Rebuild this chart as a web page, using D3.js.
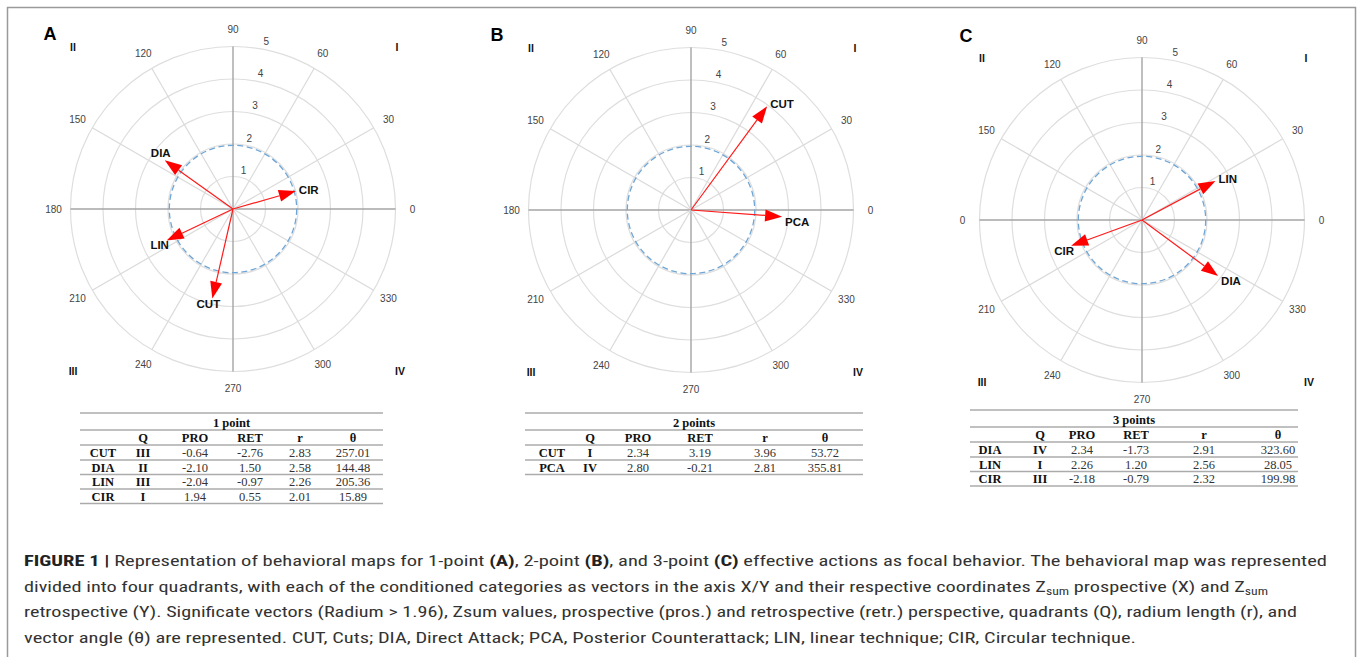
<!DOCTYPE html>
<html><head><meta charset="utf-8">
<script src="https://cdn.jsdelivr.net/npm/d3@7"></script>
<style>body{margin:0;background:#fff}</style>
</head><body><svg id="c" width="1357" height="657"></svg>
<script>
// ---------------- data ----------------
const panelLetters = ["A", "B", "C"];
const tableTitles = ["1 point", "2 points", "3 points"];
const tableHeader = ["", "Q", "PRO", "RET", "r", "θ"];
// category, quadrant, PRO, RET, r, theta
const rowsA = [
  ["CUT", "III", -0.64, -2.76, 2.83, 257.01],
  ["DIA", "II", -2.10, 1.50, 2.58, 144.48],
  ["LIN", "III", -2.04, -0.97, 2.26, 205.36],
  ["CIR", "I", 1.94, 0.55, 2.01, 15.89]
];
const rowsB = [
  ["CUT", "I", 2.34, 3.19, 3.96, 53.72],
  ["PCA", "IV", 2.80, -0.21, 2.81, 355.81]
];
const rowsC = [
  ["DIA", "IV", 2.34, -1.73, 2.91, 323.60],
  ["LIN", "I", 2.26, 1.20, 2.56, 28.05],
  ["CIR", "III", -2.18, -0.79, 2.32, 199.98]
];
const radialTicks = [1, 2, 3, 4, 5];
const angleTicks = [0, 30, 60, 90, 120, 150, 180, 210, 240, 270, 300, 330];
const angleLabelsA = ["0", "30", "60", "90", "120", "150", "180", "210", "240", "270", "300", "330"];
const angleLabelsB = ["0", "30", "60", "90", "120", "150", "180", "210", "240", "270", "300", "330"];
const angleLabelsC = ["0", "30", "60", "90", "120", "150", "0", "210", "240", "270", "300", "330"];
const quadrantLabels = ["I", "II", "III", "IV"];
const quadrantAngles = [45, 135, 225, 315];
const significanceRadius = 1.96;
const rMax = 5;

const captionLines = [
  [["FIGURE 1 |", true], [" Representation of behavioral maps for 1-point ", false], ["(A)", true], [", 2-point ", false], ["(B)", true], [", and 3-point ", false], ["(C)", true], [" effective actions as focal behavior. The behavioral map was represented", false]],
  [["divided into four quadrants, with each of the conditioned categories as vectors in the axis X/Y and their respective coordinates Z", false], ["sum", false, "sub"], [" prospective (X) and Z", false], ["sum", false, "sub"]],
  [["retrospective (Y). Significate vectors (Radium > 1.96), Zsum values, prospective (pros.) and retrospective (retr.) perspective, quadrants (Q), radium length (r), and", false]],
  [["vector angle (θ) are represented. CUT, Cuts; DIA, Direct Attack; PCA, Posterior Counterattack; LIN, linear technique; CIR, Circular technique.", false]]
];

// ---------------- layout ----------------
const panels = [
  {cx: 233, cy: 209, letter: [50, 40], rows: rowsA, labels: angleLabelsA,
   table: {left: 80, right: 383, top: 413, cols: [103, 143, 195, 250, 300, 353]}},
  {cx: 691, cy: 210, letter: [497, 41], rows: rowsB, labels: angleLabelsB,
   table: {left: 525, right: 863, top: 413, cols: [552, 590, 638, 700, 765, 825]}},
  {cx: 1142, cy: 220, letter: [966, 42], rows: rowsC, labels: angleLabelsC,
   table: {left: 970, right: 1298, top: 410, cols: [990, 1040, 1082, 1136, 1204, 1278]}}
];
const R = 162.5;
const sans = "'Liberation Sans', Arial, sans-serif";
const serif = "'Liberation Serif', 'Times New Roman', serif";

const svg = d3.select("#c");
svg.append("path").attr("d", "M7.5,657 V7.5 H1355.5 V657")
  .attr("fill", "none").attr("stroke", "#9a9a9a").attr("stroke-width", 1.5);

const rScale = d3.scaleLinear().domain([0, rMax]).range([0, R]);
const rad = d => d * Math.PI / 180;

panels.forEach((p, pi) => {
  const g = svg.append("g").attr("transform", `translate(${p.cx},${p.cy})`);
  const px = (r, a) => rScale(r) * Math.cos(rad(a));
  const py = (r, a) => -rScale(r) * Math.sin(rad(a));

  // grid circles
  g.selectAll("circle.grid").data(radialTicks).join("circle")
    .attr("r", d => rScale(d)).attr("fill", "none")
    .attr("stroke", "#dedede").attr("stroke-width", 1.2);
  // spokes
  g.selectAll("line.spoke").data(angleTicks).join("line")
    .attr("x1", 0).attr("y1", 0)
    .attr("x2", d => px(rMax, d)).attr("y2", d => py(rMax, d))
    .attr("stroke", d => d % 90 === 0 ? "#a4a4a4" : "#dadada")
    .attr("stroke-width", d => d % 90 === 0 ? 1.4 : 1.2);
  // angle labels
  g.selectAll("text.ang").data(angleTicks).join("text")
    .attr("x", d => (R + 17) * Math.cos(rad(d)))
    .attr("y", d => -(R + 17) * Math.sin(rad(d)))
    .attr("text-anchor", "middle").attr("dominant-baseline", "central")
    .attr("font-family", sans).attr("font-size", 10).attr("fill", "#444")
    .text((d, i) => p.labels[i]);
  // radial labels
  g.selectAll("text.rl").data(radialTicks).join("text")
    .attr("x", d => px(d, 80) + 5).attr("y", d => py(d, 80) - 7)
    .attr("text-anchor", "middle").attr("dominant-baseline", "central")
    .attr("font-family", sans).attr("font-size", 10).attr("fill", "#444")
    .text(d => d);
  // significance circle
  g.append("circle").attr("r", rScale(significanceRadius)).attr("fill", "none")
    .attr("stroke", "#6fa6d6").attr("stroke-width", 1.3).attr("stroke-dasharray", "6,3.5");
  // quadrant labels
  g.selectAll("text.q").data(quadrantLabels).join("text")
    .attr("x", (d, i) => Math.sign(Math.cos(rad(quadrantAngles[i]))) * (d === "IV" ? 167 : (d === "I" ? 164 : 160)))
    .attr("y", (d, i) => -Math.sign(Math.sin(rad(quadrantAngles[i]))) * 162)
    .attr("text-anchor", "middle").attr("dominant-baseline", "central")
    .attr("font-family", sans).attr("font-weight", "bold").attr("font-size", 10.5).attr("fill", "#111")
    .text(d => d);
  // vectors
  const headLen = 17, headW = 6;
  p.rows.forEach(row => {
    const r = row[4], a = row[5];
    const tx = px(r, a), ty = py(r, a);
    const L = rScale(r), ux = tx / L, uy = ty / L;
    const bx = tx - ux * headLen, by = ty - uy * headLen;
    g.append("line").attr("x1", 0).attr("y1", 0).attr("x2", bx).attr("y2", by)
      .attr("stroke", "#ff1a1a").attr("stroke-width", 1.2);
    g.append("path")
      .attr("d", `M${tx},${ty} L${bx - uy * headW},${by + ux * headW} L${bx + uy * headW},${by - ux * headW} Z`)
      .attr("fill", "#ff0000");
    const c = Math.cos(rad(a)), s = Math.sin(rad(a));
    let lx, ly, anchor;
    if (c > 0.2) { anchor = "start"; lx = tx + 3; ly = ty + (s > 0 ? -3 * s : 5); }
    else { anchor = "middle"; lx = tx - (c < -0.85 ? 7 : 4); ly = ty + (s > 0 ? -7 : 5); }
    g.append("text").attr("x", lx).attr("y", ly)
      .attr("text-anchor", anchor).attr("dominant-baseline", "central")
      .attr("font-family", sans).attr("font-weight", "bold").attr("font-size", 11.5).attr("fill", "#111")
      .text(row[0]);
  });

  // panel letter
  svg.append("text").attr("x", p.letter[0]).attr("y", p.letter[1])
    .attr("text-anchor", "middle").attr("font-family", sans).attr("font-weight", "bold")
    .attr("font-size", 18).attr("fill", "#000").text(panelLetters[pi]);

  // table
  const t = p.table;
  const tg = svg.append("g");
  const y0 = t.top;
  const step = 14.5;
  const lineYs = [y0, y0 + 17, y0 + 32];
  p.rows.forEach((r, i) => lineYs.push(y0 + 47 + i * step));
  tg.selectAll("line").data(lineYs).join("line")
    .attr("x1", t.left).attr("x2", t.right).attr("y1", d => d).attr("y2", d => d)
    .attr("stroke", "#ababab").attr("stroke-width", 1.4);
  tg.append("text").attr("x", (t.left + t.right) / 2).attr("y", y0 + 9.5)
    .attr("text-anchor", "middle").attr("dominant-baseline", "central")
    .attr("font-family", serif).attr("font-weight", "bold").attr("font-size", 12.5).attr("fill", "#111")
    .text(tableTitles[pi]);
  tg.selectAll("text.h").data(tableHeader).join("text")
    .attr("x", (d, i) => t.cols[i]).attr("y", y0 + 25)
    .attr("text-anchor", "middle").attr("dominant-baseline", "central")
    .attr("font-family", serif).attr("font-weight", "bold").attr("font-size", 12.5).attr("fill", "#111")
    .text(d => d);
  p.rows.forEach((row, ri) => {
    tg.selectAll(null).data(row).join("text")
      .attr("x", (d, i) => t.cols[i]).attr("y", y0 + 40 + ri * step)
      .attr("text-anchor", "middle").attr("dominant-baseline", "central")
      .attr("font-family", serif).attr("font-size", 12.5)
      .attr("font-weight", (d, i) => i < 2 ? "bold" : "normal")
      .attr("fill", (d, i) => i < 2 ? "#111" : "#333")
      .text((d, i) => i < 2 ? d : d.toFixed(2));
  });
});

// caption
const capWidths = [1303, 1244, 1273, 1112];
const capBase = [566, 592, 617, 643];
captionLines.forEach((parts, li) => {
  const txt = svg.append("text").attr("x", 24).attr("y", capBase[li])
    .attr("font-family", "'Liberation Sans Narrow', 'Roboto Condensed', 'Liberation Sans', Arial, sans-serif")
    .attr("font-size", 15.5).attr("fill", "#333")
    .attr("textLength", capWidths[li]).attr("lengthAdjust", "spacingAndGlyphs");
  parts.forEach(pt => {
    const ts = txt.append("tspan").text(pt[0]);
    if (pt[1]) ts.attr("font-weight", "bold").attr("fill", "#222");
    if (pt[2] === "sub") ts.attr("font-size", 10.5).attr("dy", 3);
  });
  // reset baseline after subscripts
  txt.selectAll("tspan").each(function(d, i) {
    const prev = i > 0 ? parts[i - 1][2] : null;
    if (prev === "sub" && parts[i][2] !== "sub") d3.select(this).attr("dy", -3);
  });
});
</script></body></html>
